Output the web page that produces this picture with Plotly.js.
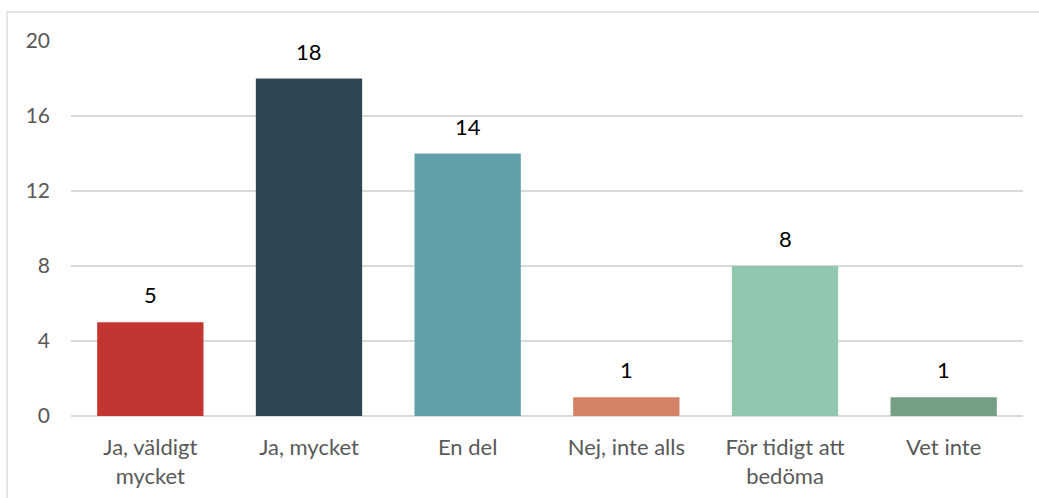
<!DOCTYPE html>
<html>
<head>
<meta charset="utf-8">
<script src="https://cdn.plot.ly/plotly-3.0.1.min.js"></script>
<style>
html,body{margin:0;padding:0;background:#fff;}
#chart{width:1039px;height:498px;}
</style>
</head>
<body>
<div id="chart"></div>
<script>
var categories = ["Ja, väldigt<br>mycket", "Ja, mycket", "En del", "Nej, inte alls", "För tidigt att<br>bedöma", "Vet inte"];
var values = [5, 18, 14, 1, 8, 1];
var barColors = ["#c23531", "#2f4554", "#61a0a8", "#d48265", "#91c7ae", "#749f83"];
var yTicks = [0, 4, 8, 12, 16, 20];

var FONT = "Lato, 'Open Sans', sans-serif";

var trace = {
  type: "bar",
  x: categories,
  y: values,
  marker: {color: barColors},
  hoverinfo: "none"
};

var annotations = categories.map(function (c, i) {
  return {
    x: c, y: values[i], xref: "x", yref: "y",
    text: String(values[i]),
    showarrow: false,
    yanchor: "bottom",
    yshift: 12,
    font: {family: FONT, size: 22, color: "#000000"}
  };
});

var layout = {
  width: 1039,
  height: 498,
  margin: {l: 71, r: 16, t: 41, b: 82},
  paper_bgcolor: "#ffffff",
  plot_bgcolor: "#ffffff",
  showlegend: false,
  bargap: 0.33,
  xaxis: {
    type: "category",
    showgrid: false,
    showline: false,
    zeroline: false,
    ticks: "",
    ticklabelstandoff: 16,
    tickfont: {family: FONT, size: 22, color: "#595959"}
  },
  yaxis: {
    range: [0, 20],
    tickvals: yTicks,
    ticktext: yTicks.map(String),
    showgrid: true,
    gridcolor: "#d9d9d9",
    gridwidth: 1.3,
    zeroline: true,
    zerolinecolor: "#d9d9d9",
    zerolinewidth: 1.3,
    showline: false,
    ticks: "",
    ticklabelstandoff: 20,
    tickfont: {family: FONT, size: 21, color: "#595959"}
  },
  annotations: annotations,
  shapes: [{
    type: "rect",
    xref: "paper", yref: "paper",
    x0: -0.0672, x1: 1.03,
    y0: -0.25, y1: 1.0773,
    line: {color: "#d9d9d9", width: 1.3},
    fillcolor: "rgba(0,0,0,0)",
    layer: "below"
  }]
};

Plotly.newPlot("chart", [trace], layout, {displayModeBar: false, staticPlot: true});
</script>
</body>
</html>
